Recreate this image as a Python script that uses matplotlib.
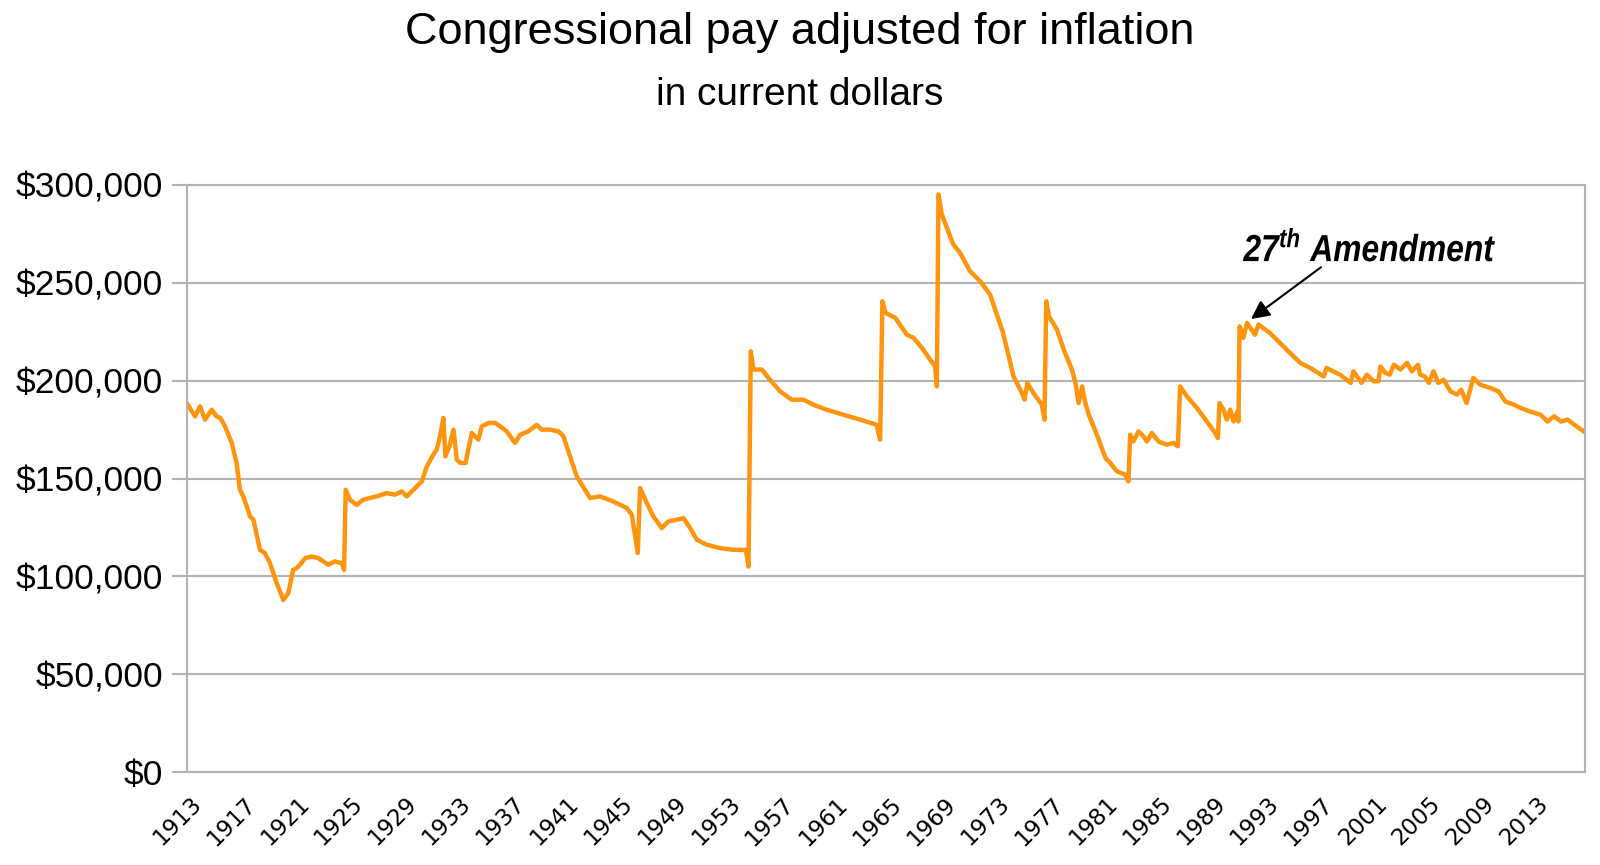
import matplotlib
matplotlib.use("Agg")
import matplotlib.pyplot as plt
from matplotlib.ticker import FuncFormatter
from matplotlib.textpath import TextPath
from matplotlib.patches import PathPatch
from matplotlib.font_manager import FontProperties
from matplotlib.transforms import Affine2D, ScaledTranslation

plt.rcParams['font.family'] = ['Liberation Sans', 'DejaVu Sans']
plt.rcParams['mathtext.fontset'] = 'custom'
plt.rcParams['mathtext.it'] = 'Liberation Sans:italic:bold'
plt.rcParams['mathtext.rm'] = 'Liberation Sans:italic:bold'

# Congressional pay in current dollars (year, dollars)
years = [
    1913.0, 1913.62, 1913.99, 1914.36, 1914.86, 1915.2, 1915.5, 1915.84, 1916.34, 1916.7,
    1916.95, 1917.2, 1917.7, 1917.95, 1918.44, 1918.8, 1919.18, 1919.68, 1920.17, 1920.54,
    1920.9, 1921.17, 1921.4, 1921.8, 1922.28, 1922.77, 1923.14, 1923.5, 1924.0, 1924.5,
    1924.68, 1924.8, 1925.12, 1925.6, 1926.1, 1926.6, 1927.1, 1927.85, 1928.46, 1928.96,
    1929.33, 1929.82, 1930.45, 1930.82, 1931.3, 1931.56, 1931.8, 1932.05, 1932.2, 1932.5,
    1932.8, 1933.05, 1933.3, 1933.7, 1933.9, 1934.16, 1934.4, 1934.65, 1934.9, 1935.4,
    1935.9, 1936.26, 1936.76, 1937.37, 1937.75, 1938.36, 1938.98, 1939.35, 1939.97, 1940.6,
    1940.96, 1941.46, 1941.95, 1942.5, 1942.94, 1943.68, 1944.67, 1945.66, 1946.04, 1946.48,
    1946.65, 1947.15, 1947.64, 1948.26, 1948.75, 1949.38, 1949.87, 1950.37, 1950.86, 1951.6,
    1952.6, 1953.58, 1954.5, 1954.7, 1954.87, 1955.06, 1955.7, 1956.18, 1957.05, 1957.9,
    1958.78, 1959.5, 1960.5, 1961.75, 1963.0, 1964.2, 1964.47, 1964.64, 1964.87, 1965.6,
    1966.45, 1966.95, 1967.57, 1968.18, 1968.55, 1968.68, 1968.8, 1969.05, 1969.9, 1970.4,
    1971.15, 1971.9, 1972.63, 1973.6, 1974.37, 1975.0, 1975.2, 1975.4, 1975.85, 1976.47,
    1976.67, 1976.8, 1977.0, 1977.6, 1978.1, 1978.7, 1978.97, 1979.2, 1979.47, 1979.7,
    1979.96, 1980.56, 1981.2, 1981.55, 1982.05, 1982.66, 1982.9, 1983.03, 1983.27, 1983.65,
    1984.02, 1984.27, 1984.64, 1985.13, 1985.75, 1986.24, 1986.57, 1986.74, 1987.24, 1987.98,
    1988.72, 1989.34, 1989.54, 1989.66, 1989.96, 1990.2, 1990.46, 1990.7, 1991.0, 1991.07,
    1991.15, 1991.44, 1991.7, 1992.3, 1992.55, 1993.4, 1994.9, 1995.65, 1996.4, 1997.4,
    1997.6, 1998.6, 1999.4, 1999.6, 2000.2, 2000.6, 2001.1, 2001.46, 2001.6, 2001.96,
    2002.3, 2002.6, 2003.1, 2003.57, 2003.94, 2004.4, 2004.56, 2004.9, 2005.2, 2005.55,
    2005.9, 2006.3, 2006.8, 2007.3, 2007.6, 2008.0, 2008.2, 2008.5, 2009.0, 2009.76,
    2010.37, 2010.87, 2011.5, 2012.0, 2012.7, 2013.5, 2014.0, 2014.5, 2015.0, 2015.5,
    2016.0, 2016.7,
]
pay = [
    188600, 181800, 186900, 180100, 185200, 181800, 181000, 176700, 168200, 158000,
    144300, 140900, 130700, 129000, 113600, 112000, 106800, 96600, 88000, 91500,
    103400, 104300, 106000, 109400, 110200, 109400, 107700, 106000, 107700, 106800,
    103400, 144300, 139200, 136600, 139200, 140100, 140900, 142600, 141800, 143500,
    140900, 144300, 148600, 156200, 162200, 164800, 171600, 181000, 161300, 166500,
    175000, 159600, 158000, 158000, 164800, 173300, 171600, 169900, 176700, 178400,
    178400, 176700, 174100, 168200, 172400, 174100, 177500, 175000, 175000, 174100,
    171600, 161300, 151100, 145000, 140100, 140900, 138300, 135000, 131500, 112000,
    145200, 137500, 130700, 124700, 128100, 129000, 129800, 124700, 118800, 116200,
    114500, 113600, 113600, 105100, 215000, 205700, 205700, 201400, 194600, 190300,
    190300, 187800, 185200, 182600, 180100, 177500, 169900, 240600, 234600, 232100,
    223500, 221900, 216800, 210800, 207300, 197100, 295100, 284900, 269600, 265300,
    255900, 250800, 244000, 224400, 202200, 193700, 190300, 198900, 193700, 187800,
    180100, 240600, 232900, 226100, 215900, 205700, 198900, 188600, 197100, 188600,
    182600, 172400, 160500, 158000, 153700, 152000, 148600, 172400, 169000, 174100,
    171600, 169000, 173300, 169000, 167300, 168200, 166500, 197100, 192000, 186100,
    179200, 173300, 170700, 188600, 185200, 180100, 185200, 179200, 184300, 179200,
    227800, 221900, 229500, 223500, 228700, 224400, 214200, 209100, 206500, 202200,
    206500, 203100, 198900, 204800, 198900, 203100, 199700, 199700, 207300, 204000,
    203100, 208200, 205700, 209100, 204800, 208200, 203100, 202200, 198900, 204800,
    198900, 200500, 194600, 192900, 195400, 188600, 193700, 201400, 198000, 196300,
    194600, 189400, 187800, 186100, 184300, 182600, 179200, 181800, 179200, 180100,
    177500, 174100,
]
tick_years = list(range(1913, 2014, 4))
y_ticks = [0, 50000, 100000, 150000, 200000, 250000, 300000]

fig = plt.figure(figsize=(16, 8.65), dpi=100)
ax = fig.add_axes([0.1167, 0.1072, 0.874, 0.679])

ax.plot(years, pay, color='#ff950e', lw=3.2, solid_joinstyle='round')

ax.set_xlim(1913, 2016.8)
ax.set_ylim(0, 300000)
ax.set_yticks(y_ticks)
ax.yaxis.set_major_formatter(FuncFormatter(lambda v, p: "${:,.0f}".format(v)))
ax.grid(axis='y', color='#b3b3b3', lw=1.5)
ax.set_axisbelow(True)
ax.tick_params(axis='y', length=11, width=1.5, color='#b3b3b3', pad=6, labelsize=25.5)
ax.set_xticks(tick_years)
ax.set_xticklabels([str(y) for y in tick_years], rotation=45, ha='right',
                   va='top', rotation_mode='anchor', fontsize=16.5,
                   family='DejaVu Sans')
ax.tick_params(axis='x', length=0, pad=14.5)
shift = ScaledTranslation(0.03, 0, fig.dpi_scale_trans)
for lbl in ax.get_xticklabels():
    lbl.set_transform(lbl.get_transform() + shift)
for s in ax.spines.values():
    s.set_color('#b3b3b3')
    s.set_linewidth(1.5)

# annotation: condensed bold italic label drawn as a path
fp = FontProperties(family='Liberation Sans', weight='bold', style='italic')
tp = TextPath((0, 0), r"$27^{th}\ Amendment$", size=37.7, prop=fp)
ext = tp.get_extents()
sx = 252.0 / ext.width
x0, y0 = ax.transData.transform((1991.4, 260900))
tr = Affine2D().translate(-ext.x0, -ext.y0).scale(sx, 1.0).translate(x0, y0)
fig.add_artist(PathPatch(tp, transform=tr, facecolor='black', edgecolor='none'))

ax.annotate('', xy=(1992.0, 231500), xytext=(1997.2, 258000),
            arrowprops=dict(arrowstyle='-|>', color='black', lw=1.5,
                            mutation_scale=28, shrinkA=0, shrinkB=0))

fig.text(0.5, 0.949, "Congressional pay adjusted for inflation", ha='center',
         va='baseline', fontsize=32.5)
fig.text(0.5, 0.879, "in current dollars", ha='center', va='baseline', fontsize=28)

fig.savefig("out.png", dpi=100)
